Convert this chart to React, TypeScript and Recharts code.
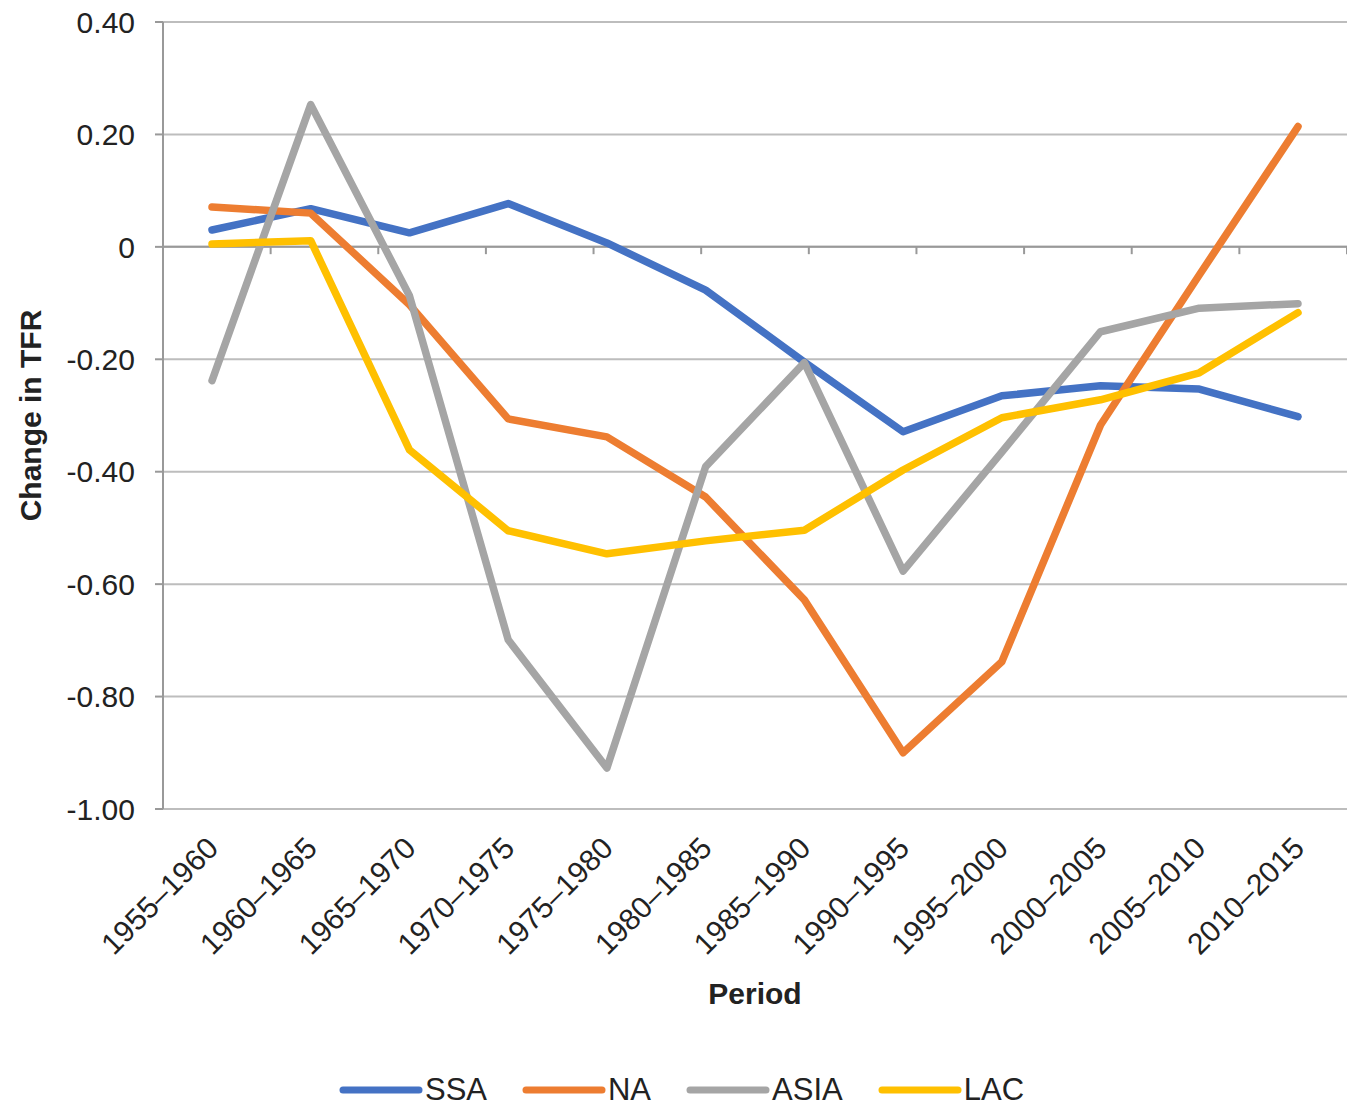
import React from 'react';
import {
  LineChart,
  Line,
  XAxis,
  YAxis,
  CartesianGrid,
  ReferenceLine,
  Legend,
  Label,
} from 'recharts';

const periods = [
  '1955–1960', '1960–1965', '1965–1970', '1970–1975', '1975–1980', '1980–1985',
  '1985–1990', '1990–1995', '1995–2000', '2000–2005', '2005–2010', '2010–2015',
];
const ssa = [0.03, 0.068, 0.025, 0.077, 0.007, -0.077, -0.205, -0.329, -0.265, -0.247, -0.253, -0.302];
const na = [0.071, 0.06, -0.103, -0.306, -0.338, -0.445, -0.628, -0.9, -0.738, -0.317, -0.05, 0.214];
const asia = [-0.238, 0.253, -0.087, -0.699, -0.927, -0.391, -0.206, -0.577, -0.365, -0.151, -0.109, -0.101];
const lac = [0.005, 0.011, -0.361, -0.505, -0.546, -0.523, -0.504, -0.397, -0.304, -0.272, -0.224, -0.117];
const yTicks = [0.4, 0.2, 0, -0.2, -0.4, -0.6, -0.8, -1.0];
const boundaryTicks = [1, 2, 3, 4, 5, 6, 7, 8, 9, 10, 11, 12];

const seriesDefs = [
  { key: 'SSA', color: '#4472C4' },
  { key: 'NA', color: '#ED7D31' },
  { key: 'ASIA', color: '#A5A5A5' },
  { key: 'LAC', color: '#FFC000' },
];

const data = periods.map((p, i) => ({
  period: p,
  SSA: ssa[i],
  NA: na[i],
  ASIA: asia[i],
  LAC: lac[i],
}));

const FONT = '"Liberation Sans", Arial, sans-serif';
const TEXT = '#222';

const XTick = (props: any) => {
  const { x, y, payload } = props;
  return (
    <g transform={`translate(${x + 8},${y + 41})`}>
      <text
        x={0}
        y={0}
        textAnchor="end"
        transform="rotate(-45)"
        fontSize={30}
        fill={TEXT}
        fontFamily={FONT}
      >
        {payload.value}
      </text>
    </g>
  );
};

const fmtY = (v: number) => (v === 0 ? '0' : v.toFixed(2));

const LegendContent = () => (
  <div
    style={{
      display: 'flex',
      justifyContent: 'center',
      alignItems: 'center',
      height: 50,
      fontFamily: FONT,
    }}
  >
    {seriesDefs.map((s, i) => (
      <div
        key={s.key}
        style={{ display: 'flex', alignItems: 'center', marginLeft: i === 0 ? 0 : 35 }}
      >
        <svg width={84} height={12} style={{ display: 'block' }}>
          <line x1={4} y1={6} x2={80} y2={6} stroke={s.color} strokeWidth={7} strokeLinecap="round" />
        </svg>
        <span style={{ fontSize: 31, color: TEXT, marginLeft: 2, lineHeight: '50px' }}>{s.key}</span>
      </div>
    ))}
  </div>
);

export default function App() {
  return (
    <div style={{ width: 1347, height: 1117, marginTop: -8 }}>
      <LineChart
        width={1347}
        height={1117}
        data={data}
        margin={{ top: 22, right: 8, left: 0, bottom: 2 }}
        style={{ fontFamily: FONT }}
      >
        <CartesianGrid horizontal vertical={false} stroke="#BDBDBD" strokeWidth={2} />
        <XAxis
          dataKey="period"
          height={256}
          padding={{ left: 49, right: 49 }}
          axisLine={false}
          tickLine={false}
          tickSize={0}
          tickMargin={0}
          interval={0}
          tick={<XTick />}
        >
          <Label
            content={(p: any) => {
              const vb = p.viewBox || {};
              return (
                <text
                  x={vb.x + vb.width / 2}
                  y={vb.y + 184}
                  textAnchor="middle"
                  dominantBaseline="central"
                  fontSize={30}
                  fontWeight="bold"
                  fill={TEXT}
                  fontFamily={FONT}
                >
                  Period
                </text>
              );
            }}
          />
        </XAxis>
        <XAxis xAxisId="grid" type="number" domain={[0, 12]} hide />
        <YAxis
          width={155}
          domain={[-1, 0.4]}
          ticks={yTicks}
          interval={0}
          tickFormatter={fmtY}
          axisLine={{ stroke: '#999', strokeWidth: 2 }}
          tickLine={{ stroke: '#999', strokeWidth: 2 }}
          tickSize={8}
          tickMargin={20}
          tick={{ fontSize: 30, fill: TEXT, fontFamily: FONT }}
        >
          <Label
            content={(p: any) => {
              const vb = p.viewBox || {};
              const cx = 22;
              const cy = vb.y + vb.height / 2;
              return (
                <text
                  x={cx}
                  y={cy}
                  textAnchor="middle"
                  dominantBaseline="central"
                  transform={`rotate(-90, ${cx}, ${cy})`}
                  fontSize={30}
                  fontWeight="bold"
                  fill={TEXT}
                  fontFamily={FONT}
                >
                  Change in TFR
                </text>
              );
            }}
          />
        </YAxis>
        <ReferenceLine y={0} stroke="#999" strokeWidth={2} />
        {boundaryTicks.map((b) => (
          <ReferenceLine
            key={b}
            xAxisId="grid"
            segment={[
              { x: b, y: 0 },
              { x: b, y: -0.013 },
            ]}
            stroke="#999"
            strokeWidth={2}
          />
        ))}
        {seriesDefs.map((s) => (
          <Line
            key={s.key}
            type="linear"
            dataKey={s.key}
            stroke={s.color}
            strokeWidth={7.5}
            strokeLinecap="round"
            strokeLinejoin="round"
            dot={false}
            activeDot={false}
            isAnimationActive={false}
          />
        ))}
        <Legend
          verticalAlign="bottom"
          content={<LegendContent />}
          wrapperStyle={{ left: 0, width: 1347 }}
        />
      </LineChart>
    </div>
  );
}
